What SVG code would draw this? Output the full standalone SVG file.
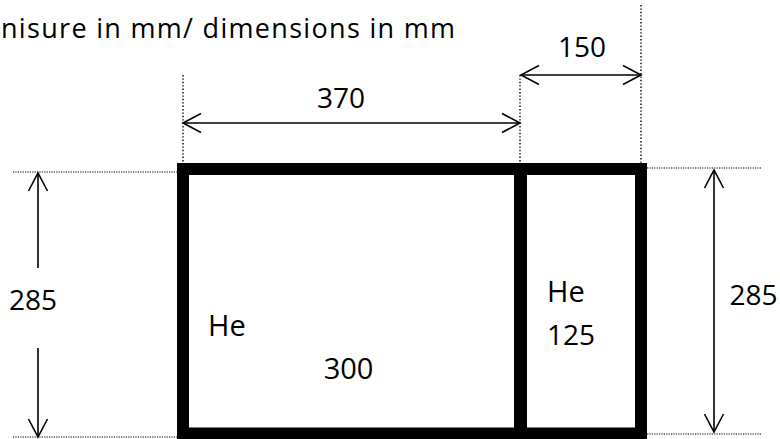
<svg xmlns="http://www.w3.org/2000/svg" width="780" height="439" viewBox="0 0 780 439">
<style>
text{font-family:"Open Sans","Noto Sans","DejaVu Sans",sans-serif;fill:#000;}
.t{font-size:27px;}
.n{font-size:28px;}
.b{font-size:29px;}
.dot{stroke:#000;stroke-width:1.4;stroke-dasharray:1.4 2;fill:none;}
.hdot{stroke:#555;stroke-width:1.3;stroke-dasharray:1.2 1.2;fill:none;}
.dim{stroke:#000;stroke-width:1.6;fill:none;}
.wall{stroke:#000;stroke-width:12;fill:#fff;}
</style>
<defs>
<marker id="ah" viewBox="-20 -11 22 22" markerUnits="userSpaceOnUse" markerWidth="22" markerHeight="22" refX="0" refY="0" orient="auto-start-reverse">
<path d="M-18,-9.5 L0,0 L-18,9.5" fill="none" stroke="#000" stroke-width="1.6"/>
</marker>
</defs>
<rect width="780" height="439" fill="#fff"/>
<text class="t" x="1" y="38" textLength="454" lengthAdjust="spacing">nisure in mm/  dimensions in mm</text>
<g id="extension-lines">
<line class="dot" x1="183" y1="75" x2="183" y2="163"/>
<line class="dot" x1="520" y1="75" x2="520" y2="163"/>
<line class="dot" x1="641" y1="5" x2="641" y2="163"/>
<line class="hdot" x1="13" y1="172" x2="177" y2="172"/>
<line class="hdot" x1="13" y1="437" x2="177" y2="437"/>
<line class="hdot" x1="647" y1="168" x2="762" y2="168"/>
<line class="hdot" x1="647" y1="434" x2="762" y2="434"/>
</g>
<g id="box-left">
<rect class="wall" x="183" y="169" width="337.5" height="264.5"/>
<text class="b" x="208" y="336">He</text>
<text class="b" x="348.5" y="379" text-anchor="middle">300</text>
</g>
<g id="box-right">
<rect class="wall" x="520.5" y="169" width="120.5" height="264.5"/>
<text class="b" x="547" y="302">He</text>
<text class="n" x="547" y="345">125</text>
</g>
<line x1="520.5" y1="169" x2="520.5" y2="433" stroke="#000" stroke-width="13"/>
<g id="connectors">
<line class="dim" x1="183" y1="123" x2="520" y2="123" marker-start="url(#ah)" marker-end="url(#ah)"/>
<line class="dim" x1="521" y1="75" x2="641" y2="75" marker-start="url(#ah)" marker-end="url(#ah)"/>
<line class="dim" x1="38" y1="268" x2="38" y2="173" marker-end="url(#ah)"/>
<line class="dim" x1="38" y1="348" x2="38" y2="437" marker-end="url(#ah)"/>
<line class="dim" x1="714" y1="170" x2="714" y2="432" marker-start="url(#ah)" marker-end="url(#ah)"/>
</g>
<g id="labels">
<text class="n" x="341" y="108" text-anchor="middle">370</text>
<text class="n" x="582" y="57" text-anchor="middle">150</text>
<text class="n" x="33" y="310" text-anchor="middle">285</text>
<text class="n" x="753.5" y="305" text-anchor="middle">285</text>
</g>
</svg>
